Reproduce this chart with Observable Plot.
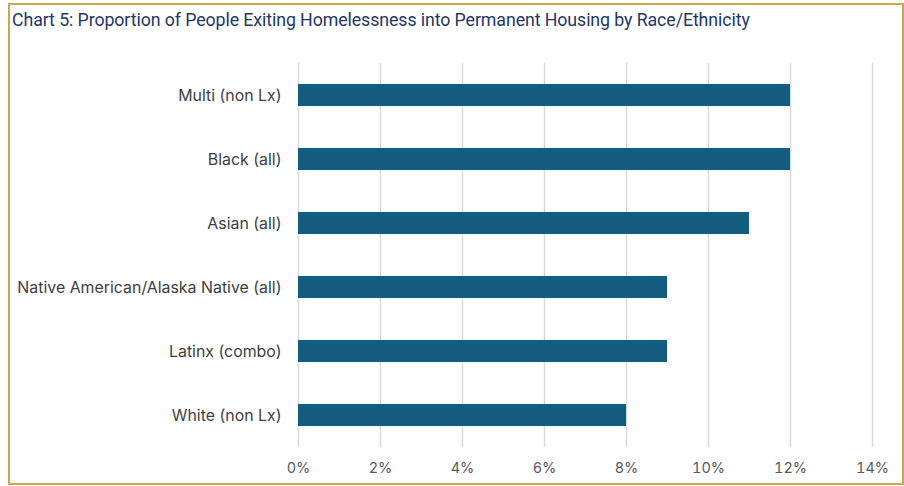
<!DOCTYPE html>
<html>
<head>
<meta charset="utf-8">
<script src="https://cdn.jsdelivr.net/npm/d3@7"></script>
<script src="https://cdn.jsdelivr.net/npm/@observablehq/plot@0.6"></script>
<style>
  html, body { margin: 0; padding: 0; background: #fff; }
  body { width: 904px; height: 486px; position: relative; overflow: hidden; }
  #frame { position: absolute; left: 8px; top: 3px; width: 892px; height: 478px; border: 2px solid #c8a84e; box-sizing: content-box; }
  #title { position: absolute; left: 12px; top: 9px; font-family: Roboto, sans-serif; font-size: 17.8px; color: #1f3864; white-space: nowrap; letter-spacing: -0.1px; }
  #chart { position: absolute; left: 0; top: 40px; }
</style>
</head>
<body>
<div id="frame"></div>
<div id="title">Chart 5: Proportion of People Exiting Homelessness into Permanent Housing by Race/Ethnicity</div>
<div id="chart"></div>
<script>
const categories = ["Multi (non Lx)", "Black (all)", "Asian (all)", "Native American/Alaska Native (all)", "Latinx (combo)", "White (non Lx)"];
const values = [0.12, 0.12, 0.11, 0.09, 0.09, 0.08];
const xTicks = [0, 0.02, 0.04, 0.06, 0.08, 0.10, 0.12, 0.14];

const data = categories.map((c, i) => ({category: c, value: values[i]}));

const plot = Plot.plot({
  width: 904,
  height: 446,
  marginLeft: 298,
  marginRight: 32,
  marginTop: 23,
  marginBottom: 39,
  style: {fontFamily: "Inter, sans-serif", fontSize: "14px", color: "#404040", background: "transparent"},
  x: {domain: [0, 0.14], ticks: xTicks, tickFormat: d3.format(".0%"), label: null},
  y: {domain: categories, paddingInner: 0.656, paddingOuter: 0.328, label: null},
  marks: [
    Plot.ruleX(xTicks, {stroke: "#d9d9d9", strokeWidth: 1.5, y1: null, y2: null}),
    Plot.barX(data, {x: "value", y: "category", fill: "#155d80"}),
    Plot.axisX({ticks: xTicks, tickFormat: d3.format(".0%"), tickSize: 0, tickPadding: 15, label: null, fontSize: 14.5, fill: "#595959"}),
    Plot.axisY({tickSize: 0, tickPadding: 17, label: null, fontSize: 15.9, fill: "#404040"})
  ]
});
document.getElementById("chart").appendChild(plot);
</script>
</body>
</html>
